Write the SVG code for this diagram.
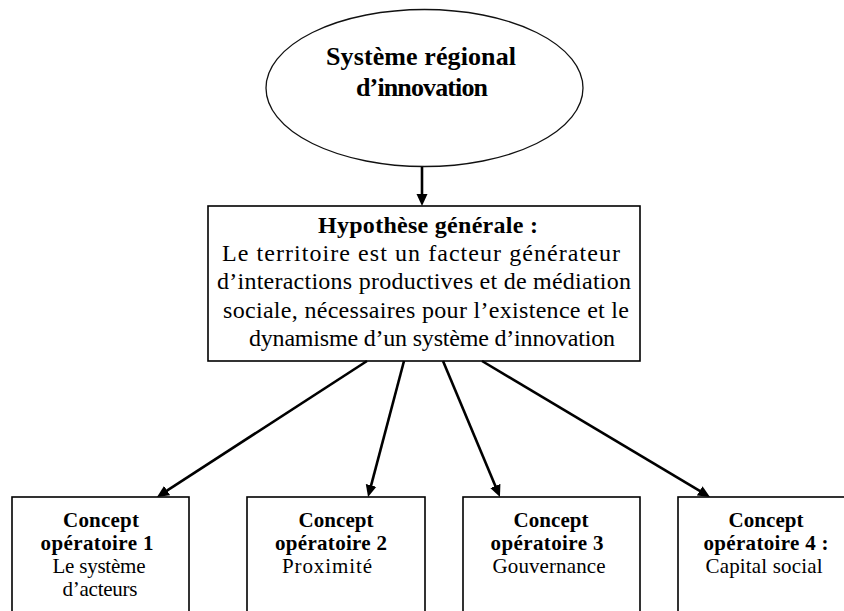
<svg xmlns="http://www.w3.org/2000/svg" width="844" height="611" viewBox="0 0 844 611">
<style>
.shape{fill:#fff;stroke:#000;stroke-width:1.6}
.ell{fill:#fff;stroke:#111;stroke-width:1.3}
.t{font-family:"Liberation Serif","Times New Roman",serif;fill:#000;text-anchor:middle}
.b{font-weight:bold}
.big{font-size:26px}
.mid{font-size:24px}
.sm{font-size:21px}
.conn{stroke:#000;stroke-width:2.6;fill:none;marker-end:url(#ah)}
</style>
<defs>
<marker id="ah" markerUnits="userSpaceOnUse" markerWidth="12" markerHeight="12" refX="2" refY="6" orient="auto">
<path d="M0,0.5 L12,6 L0,11.5 z" fill="#000"/>
</marker>
</defs>
<rect width="844" height="611" fill="#fff"/>
<g id="node-srI">
<ellipse class="ell" cx="424.5" cy="88" rx="158.5" ry="78.5"/>
<text class="t b big" x="421" y="65" textLength="190" lengthAdjust="spacing">Système régional</text>
<text class="t b big" x="422" y="96" textLength="132" lengthAdjust="spacing">d’innovation</text>
</g>
<g id="node-hypothese">
<rect class="shape" x="208" y="206" width="432" height="155"/>
<text class="t b mid" x="428" y="233" textLength="220" lengthAdjust="spacing">Hypothèse générale :</text>
<text class="t mid" x="421" y="261" textLength="398" lengthAdjust="spacing">Le territoire est un facteur générateur</text>
<text class="t mid" x="424" y="289" textLength="414" lengthAdjust="spacing">d’interactions productives et de médiation</text>
<text class="t mid" x="426" y="318" textLength="406" lengthAdjust="spacing">sociale, nécessaires pour l’existence et le</text>
<text class="t mid" x="432" y="346" textLength="366" lengthAdjust="spacing">dynamisme d’un système d’innovation</text>
</g>
<g id="node-c1">
<rect class="shape" x="12" y="497" width="177" height="130"/>
<text class="t b sm" x="101" y="527" textLength="76" lengthAdjust="spacing">Concept</text>
<text class="t b sm" x="97" y="550" textLength="113" lengthAdjust="spacing">opératoire 1</text>
<text class="t sm" x="99" y="573" textLength="93" lengthAdjust="spacing">Le système</text>
<text class="t sm" x="100" y="596" textLength="75" lengthAdjust="spacing">d’acteurs</text>
</g>
<g id="node-c2">
<rect class="shape" x="247" y="497" width="178" height="130"/>
<text class="t b sm" x="336" y="527" textLength="75" lengthAdjust="spacing">Concept</text>
<text class="t b sm" x="331" y="550" textLength="112" lengthAdjust="spacing">opératoire 2</text>
<text class="t sm" x="327" y="573" textLength="90" lengthAdjust="spacing">Proximité</text>
</g>
<g id="node-c3">
<rect class="shape" x="463" y="497" width="177" height="130"/>
<text class="t b sm" x="551" y="527" textLength="75" lengthAdjust="spacing">Concept</text>
<text class="t b sm" x="547" y="550" textLength="113" lengthAdjust="spacing">opératoire 3</text>
<text class="t sm" x="549" y="573" textLength="113" lengthAdjust="spacing">Gouvernance</text>
</g>
<g id="node-c4">
<rect class="shape" x="678" y="497" width="178" height="130"/>
<text class="t b sm" x="766" y="527" textLength="75" lengthAdjust="spacing">Concept</text>
<text class="t b sm" x="766" y="550" textLength="125" lengthAdjust="spacing">opératoire 4 :</text>
<text class="t sm" x="764" y="573" textLength="117" lengthAdjust="spacing">Capital social</text>
</g>
<g id="connectors">
<line class="conn" x1="422" y1="167" x2="422" y2="196"/>
<line class="conn" x1="367" y1="361" x2="165.4" y2="491.6"/>
<line class="conn" x1="404" y1="361" x2="370.6" y2="487.3"/>
<line class="conn" x1="443" y1="361" x2="496.1" y2="487.8"/>
<line class="conn" x1="482" y1="361" x2="701.4" y2="491.9"/>
</g>
</svg>
